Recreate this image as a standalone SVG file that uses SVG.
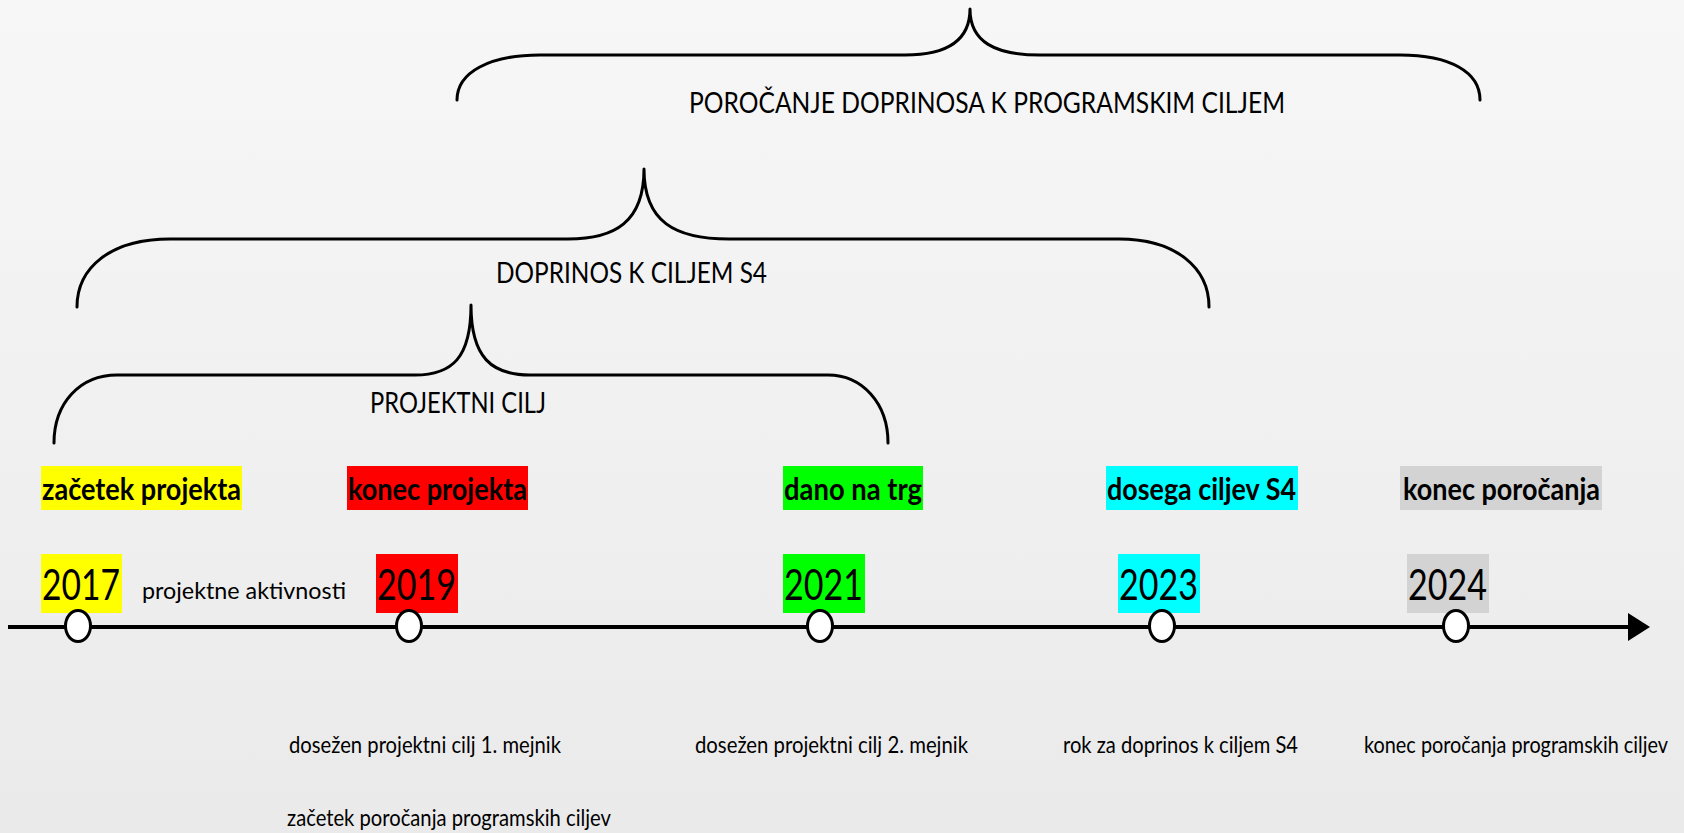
<svg xmlns="http://www.w3.org/2000/svg" width="1684" height="833" viewBox="0 0 1684 833">
<defs>
<linearGradient id="bg" x1="0" y1="0" x2="0" y2="1">
<stop offset="0" stop-color="#f7f7f7"/>
<stop offset="1" stop-color="#eaeaea"/>
</linearGradient>
<style>
.brace{fill:none;stroke:#000;stroke-width:3;stroke-linecap:round;stroke-linejoin:round}
.blabel{font-family:Lato,"Liberation Sans",sans-serif;font-size:29px;fill:#000}
.tag{font-family:Lato,"Liberation Sans",sans-serif;font-size:31px;font-weight:bold;fill:#000}
.year{font-family:Lato,"Liberation Sans",sans-serif;font-size:42px;fill:#000}
.note{font-family:Lato,"Liberation Sans",sans-serif;font-size:23px;fill:#000}
.ms{fill:#fff;stroke:#000;stroke-width:3}
</style>
</defs>
<rect x="0" y="0" width="1684" height="833" fill="url(#bg)"/>

<g id="brace-porocanje">
<path class="brace" stroke-width="2.5" d="M457,100 C457,72 490,55 540,55 L905,55 C945,55 970,42 970,9 C970,42 995,55 1040,55 L1400,55 C1450,55 1480,72 1480,100"/>
<text class="blabel" x="689" y="113" textLength="596" lengthAdjust="spacingAndGlyphs">POROČANJE DOPRINOSA K PROGRAMSKIM CILJEM</text>
</g>

<g id="brace-doprinos">
<path class="brace" d="M77,307 C77,268 110,239 170,239 L568,239 C615,239 644,222 644,169 C644,222 675,239 729,239 L1119,239 C1176,239 1209,268 1209,307"/>
<text class="blabel" x="496" y="283" textLength="271" lengthAdjust="spacingAndGlyphs">DOPRINOS K CILJEM S4</text>
</g>

<g id="brace-projektni">
<path class="brace" d="M54,443 C54,403 80,375 117,375 L415,375 C452,375 471,358 471,305 C471,358 492,375 530,375 L828,375 C862,375 888,403 888,443"/>
<text class="blabel" x="370" y="413" textLength="176" lengthAdjust="spacingAndGlyphs">PROJEKTNI CILJ</text>
</g>

<g id="connectors">
<line x1="8" y1="627" x2="1632" y2="627" stroke="#000" stroke-width="4"/>
<polygon points="1628,613 1650,627 1628,641" fill="#000"/>
</g>

<g id="m2017">
<rect x="41" y="466" width="201" height="44" fill="#ffff00"/>
<text class="tag" x="42" y="500" textLength="199" lengthAdjust="spacingAndGlyphs">začetek projekta</text>
<rect x="41" y="554" width="81" height="59" fill="#ffff00"/>
<text class="year" x="42" y="600" textLength="78" lengthAdjust="spacingAndGlyphs">2017</text>
<ellipse class="ms" cx="78" cy="626" rx="12.5" ry="15.5"/>
</g>

<g id="aktivnosti">
<text class="note" x="142" y="599" textLength="204" lengthAdjust="spacingAndGlyphs">projektne aktivnosti</text>
</g>

<g id="m2019">
<rect x="347" y="466" width="181" height="44" fill="#ff0000"/>
<text class="tag" x="348" y="500" textLength="179" lengthAdjust="spacingAndGlyphs">konec projekta</text>
<rect x="376" y="554" width="82" height="59" fill="#ff0000"/>
<text class="year" x="377" y="600" textLength="79" lengthAdjust="spacingAndGlyphs">2019</text>
<ellipse class="ms" cx="409" cy="626" rx="12.5" ry="15.5"/>
<text class="note" x="289" y="753" textLength="272" lengthAdjust="spacingAndGlyphs">dosežen projektni cilj 1. mejnik</text>
<text class="note" x="287" y="826" textLength="324" lengthAdjust="spacingAndGlyphs">začetek poročanja programskih ciljev</text>
</g>

<g id="m2021">
<rect x="783" y="466" width="140" height="44" fill="#00ff00"/>
<text class="tag" x="784" y="500" textLength="138" lengthAdjust="spacingAndGlyphs">dano na trg</text>
<rect x="783" y="554" width="82" height="59" fill="#00ff00"/>
<text class="year" x="784" y="600" textLength="79" lengthAdjust="spacingAndGlyphs">2021</text>
<ellipse class="ms" cx="820" cy="626" rx="12.5" ry="15.5"/>
<text class="note" x="695" y="753" textLength="273" lengthAdjust="spacingAndGlyphs">dosežen projektni cilj 2. mejnik</text>
</g>

<g id="m2023">
<rect x="1106" y="466" width="192" height="44" fill="#00ffff"/>
<text class="tag" x="1107" y="500" textLength="189" lengthAdjust="spacingAndGlyphs">dosega ciljev S4</text>
<rect x="1118" y="554" width="82" height="59" fill="#00ffff"/>
<text class="year" x="1119" y="600" textLength="79" lengthAdjust="spacingAndGlyphs">2023</text>
<ellipse class="ms" cx="1162" cy="626" rx="12.5" ry="15.5"/>
<text class="note" x="1063" y="753" textLength="235" lengthAdjust="spacingAndGlyphs">rok za doprinos k ciljem S4</text>
</g>

<g id="m2024">
<rect x="1400" y="466" width="202" height="44" fill="#d3d3d3"/>
<text class="tag" x="1403" y="500" textLength="197" lengthAdjust="spacingAndGlyphs">konec poročanja</text>
<rect x="1407" y="554" width="82" height="59" fill="#d3d3d3"/>
<text class="year" x="1408" y="600" textLength="79" lengthAdjust="spacingAndGlyphs">2024</text>
<ellipse class="ms" cx="1456" cy="626" rx="12.5" ry="15.5"/>
<text class="note" x="1364" y="753" font-size="20" textLength="304" lengthAdjust="spacingAndGlyphs">konec poročanja programskih ciljev</text>
</g>
</svg>
